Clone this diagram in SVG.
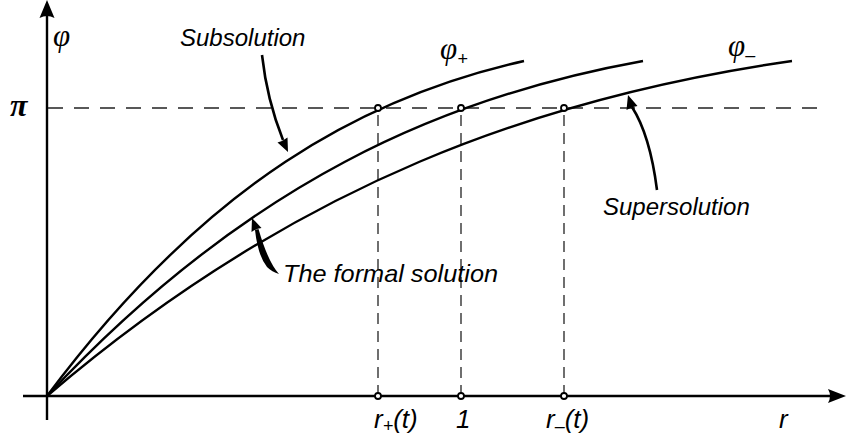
<svg xmlns="http://www.w3.org/2000/svg" width="846" height="439" viewBox="0 0 846 439">
<style>
.ax{stroke:#000;stroke-width:2.4;fill:none}
.crv{stroke:#000;stroke-width:2.4;fill:none}
.dh{stroke:#222;stroke-width:1.3;fill:none;stroke-dasharray:15 11}
.dv{stroke:#222;stroke-width:1.3;fill:none;stroke-dasharray:11 7}
.pt{fill:#fff;stroke:#000;stroke-width:1.8}
.lbl{font-family:"Liberation Sans",Arial,sans-serif;font-style:italic;font-size:24px;fill:#000}
.bl{font-size:26px}
.math{font-family:"Liberation Serif","Times New Roman",serif;font-style:italic;font-size:31px;fill:#000}
.sub{font-family:"Liberation Sans",Arial,sans-serif;font-size:18px;fill:#000}
.arr{stroke:#000;stroke-width:2.6;fill:none}
.head{fill:#000}
</style>
<g id="axes">
<line class="ax" x1="47" y1="420" x2="47" y2="14"/>
<path class="head" d="M47,0 L54.5,18 Q47,14 39.5,18 Z"/>
<line class="ax" x1="23" y1="396" x2="834" y2="396"/>
<path class="head" d="M846,396 L828,403 Q832,396 828,389 Z"/>
</g>
<g id="guides">
<line class="dh" x1="48" y1="108" x2="820" y2="108"/>
<line class="dv" x1="378" y1="396" x2="378" y2="110"/>
<line class="dv" x1="461" y1="396" x2="461" y2="110"/>
<line class="dv" x1="564" y1="396" x2="564" y2="110"/>
</g>
<g id="curve-plus">
<path class="crv" d="M47,396 C207,182 364,97 524,61"/>
</g>
<g id="curve-formal">
<path class="crv" d="M47,396 C247,182 443,97 643,61"/>
</g>
<g id="curve-minus">
<path class="crv" d="M47,396 C297,182 542,97 792,61"/>
</g>
<g id="points">
<circle class="pt" cx="378" cy="108" r="3"/>
<circle class="pt" cx="461" cy="108" r="3"/>
<circle class="pt" cx="564" cy="108" r="3"/>
<circle class="pt" cx="378" cy="396" r="3"/>
<circle class="pt" cx="461" cy="396" r="3"/>
<circle class="pt" cx="564" cy="396" r="3"/>
</g>
<g id="connectors">
<path class="arr" d="M262,55 Q267,100 283,140"/>
<path class="head" d="M288,152 L287.5,137.5 Q283,141 277.5,142.5 Z"/>
<path class="arr" d="M657,190 Q650,135 632,107"/>
<path class="head" d="M628,95 L637.5,106 Q632,106.5 626.5,110 Z"/>
<path class="head" d="M255,230 Q258,256 267,267 Q272,272 279,274 Q268,262 258.5,229 Z"/>
<path class="head" d="M252,218 L261.5,228 Q256.5,228.5 251.5,232 Z"/>
</g>
<g id="labels">
<text class="math" x="53" y="46">φ</text>
<text class="math" x="10" y="116" style="font-size:32px;font-weight:bold">π</text>
<text class="math" x="440" y="59">φ<tspan class="sub" dy="6">+</tspan></text>
<text class="math" x="728" y="56">φ<tspan class="sub" dy="5">–</tspan></text>
<text class="lbl" x="180" y="46">Subsolution</text>
<text class="lbl" x="603" y="215">Supersolution</text>
<text class="lbl" x="283" y="282" textLength="215" lengthAdjust="spacingAndGlyphs">The formal solution</text>
<text class="lbl bl" x="374" y="428">r<tspan class="sub" style="font-style:italic" dy="4">+</tspan><tspan dy="-4">(t)</tspan></text>
<text class="lbl bl" x="456" y="428">1</text>
<text class="lbl bl" x="546" y="428">r<tspan class="sub" style="font-style:italic" dy="4">–</tspan><tspan dy="-4">(t)</tspan></text>
<text class="lbl bl" x="779" y="428">r</text>
</g>
</svg>
